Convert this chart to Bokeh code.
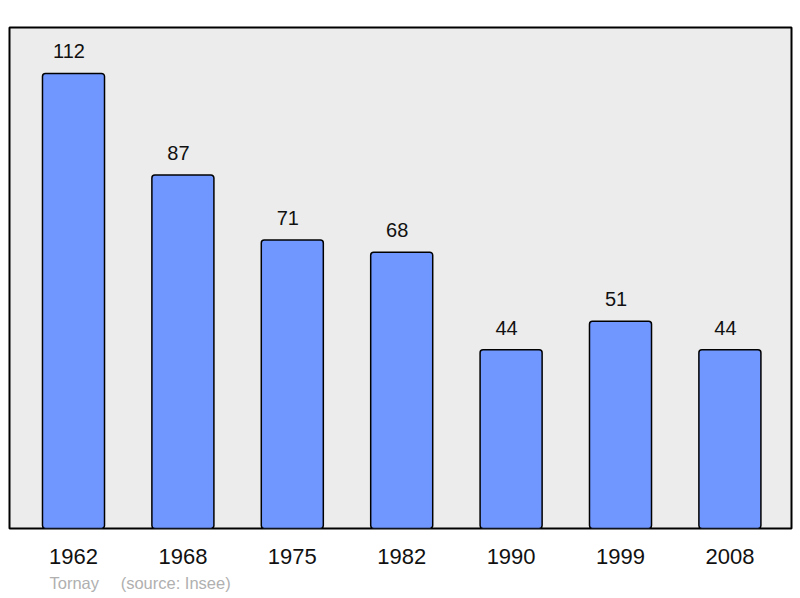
from bokeh.plotting import figure
from bokeh.models import Range1d, FixedTicker, ColumnDataSource, LabelSet, Title
from bokeh.core.properties import value
from bokeh.embed import file_html
from bokeh.resources import INLINE

years = ["1962", "1968", "1975", "1982", "1990", "1999", "2008"]
population = [112, 87, 71, 68, 44, 51, 44]
place = "Tornay"
source_note = "(source: Insee)"

FONT = "Liberation Sans"
idx = list(range(len(years)))
src = ColumnDataSource(dict(x=idx, top=population, lab=[str(v) for v in population]))

p = figure(width=800, height=598, output_backend="svg", toolbar_location=None,
           x_range=Range1d(-0.585, 6.563), y_range=Range1d(0, 123.3),
           min_border_left=9, min_border_right=9, min_border_top=27, min_border_bottom=70)
p.background_fill_color = "#ececec"
p.border_fill_color = "white"
p.outline_line_color = "black"
p.outline_line_width = 2
p.grid.visible = False
p.yaxis.visible = False

p.vbar(x="x", top="top", bottom=0, width=0.567, source=src,
       fill_color="#7096ff", line_color="black", line_width=1.5, border_radius=3)

p.add_layout(LabelSet(x="x", y="top", text="lab", source=src, y_offset=15, x_offset=-4.5,
                      text_align="center", text_baseline="alphabetic",
                      text_font=value(FONT), text_font_size="20px", text_color="#111111"))

ax = p.xaxis[0]
ax.ticker = FixedTicker(ticks=idx)
ax.major_label_overrides = {i: y for i, y in zip(idx, years)}
ax.axis_line_color = None
ax.major_tick_line_color = None
ax.minor_tick_line_color = None
ax.major_label_standoff = 14
ax.major_label_text_font = FONT
ax.major_label_text_font_size = "22px"
ax.major_label_text_color = "#111111"

gap = "\u00a0" * 4 + "\u2009"
footer = Title(text=place + gap + source_note, align="left", offset=40,
               text_font=FONT, text_font_size="16.5px", text_font_style="normal",
               text_color="#b0b0b0", standoff=10)
p.add_layout(footer, "below")

open("out.html", "w").write(file_html(p, INLINE))
